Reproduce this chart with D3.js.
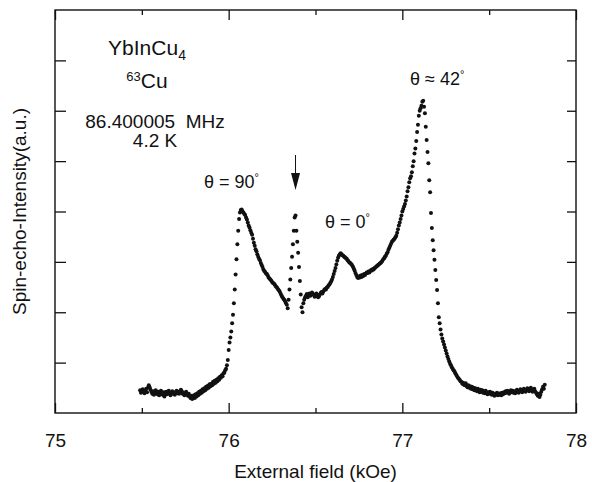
<!DOCTYPE html>
<html>
<head>
<meta charset="utf-8">
<script src="https://cdn.jsdelivr.net/npm/d3@7"></script>
<style>
  body { margin: 0; background: #fff; }
  text { font-family: "Liberation Sans", Arial, Helvetica, sans-serif; fill: #111; }
</style>
</head>
<body>
<div id="chart"></div>
<script>
// field (kOe) , spin-echo intensity (a.u.)
const spectrum = [
  // low-field baseline
  [75.490,0.45],[75.495,0.40],[75.500,0.43],[75.505,0.47],[75.510,0.42],[75.515,0.39],[75.520,0.44],[75.525,0.48],
  [75.530,0.41],[75.535,0.50],[75.540,0.55],[75.545,0.51],[75.550,0.46],[75.555,0.42],[75.560,0.38],[75.565,0.43],
  [75.570,0.36],[75.575,0.40],[75.580,0.45],[75.585,0.41],[75.590,0.37],[75.595,0.42],[75.600,0.35],[75.605,0.39],
  [75.610,0.44],[75.615,0.40],[75.620,0.36],[75.625,0.41],[75.630,0.33],[75.635,0.38],[75.640,0.42],[75.645,0.37],
  [75.650,0.40],[75.655,0.44],[75.660,0.39],[75.665,0.35],[75.670,0.40],[75.675,0.43],[75.680,0.38],[75.685,0.41],
  [75.690,0.36],[75.695,0.40],[75.700,0.44],[75.705,0.39],[75.710,0.42],[75.715,0.38],[75.720,0.41],[75.725,0.46],
  [75.730,0.43],[75.735,0.38],[75.740,0.40],[75.745,0.35],[75.750,0.38],[75.755,0.42],[75.760,0.37],[75.765,0.34],
  [75.770,0.38],[75.775,0.33],[75.780,0.30],[75.785,0.34],[75.790,0.28],[75.795,0.31],[75.800,0.35],[75.805,0.30],
  [75.810,0.37],[75.815,0.33],[75.820,0.39],[75.825,0.35],[75.830,0.42],[75.835,0.38],[75.840,0.44],[75.845,0.40],
  [75.850,0.47],[75.855,0.43],[75.860,0.49],[75.865,0.45],[75.870,0.52],[75.875,0.48],[75.880,0.54],[75.885,0.50],
  [75.890,0.57],[75.895,0.53],[75.900,0.58],[75.905,0.55],[75.910,0.62],[75.915,0.58],[75.920,0.64],[75.925,0.60],
  [75.930,0.66],[75.935,0.63],[75.940,0.69],[75.945,0.66],[75.950,0.72],[75.955,0.70],[75.960,0.75],[75.965,0.73],
  [75.970,0.79],[75.975,0.80],[75.980,0.85],[75.985,0.88],[75.990,0.95],
  // theta = 90 edge and peak
  [75.995,1.05],[76.000,1.25],[76.005,1.40],[76.010,1.50],[76.015,1.62],[76.020,1.78],[76.025,1.95],
  [76.030,2.18],[76.035,2.45],[76.040,2.75],[76.045,3.05],[76.050,3.35],[76.055,3.62],[76.060,3.85],
  [76.065,3.98],[76.070,4.03],[76.075,4.04],[76.080,4.00],
  [76.085,3.98],[76.090,3.95],[76.095,3.93],[76.100,3.88],[76.105,3.84],[76.110,3.78],[76.115,3.72],[76.120,3.68],
  [76.125,3.63],[76.130,3.58],[76.135,3.54],[76.140,3.46],[76.145,3.38],[76.150,3.32],[76.155,3.25],[76.160,3.21],
  [76.165,3.15],[76.170,3.10],[76.175,3.06],[76.180,3.03],[76.185,2.98],[76.190,2.94],[76.195,2.90],[76.200,2.85],
  [76.205,2.82],[76.210,2.80],[76.215,2.77],[76.220,2.76],[76.225,2.73],[76.230,2.69],[76.235,2.67],[76.240,2.65],
  [76.245,2.63],[76.250,2.60],[76.255,2.58],[76.260,2.57],[76.265,2.55],[76.270,2.52],[76.275,2.50],[76.280,2.48],
  [76.285,2.45],[76.290,2.43],[76.295,2.40],[76.300,2.36],[76.305,2.33],[76.310,2.30],[76.315,2.27],[76.320,2.25],
  [76.325,2.22],[76.330,2.18],[76.335,2.15],[76.340,2.08],
  // narrow line (arrow)
  [76.345,2.25],[76.350,2.45],[76.355,2.65],[76.360,2.88],[76.365,3.10],[76.370,3.35],[76.375,3.62],
  [76.380,3.88],[76.385,3.92],[76.390,3.62],[76.395,3.40],[76.400,3.18],[76.405,2.90],[76.410,2.62],
  [76.415,2.35],[76.420,2.10],[76.425,2.00],
  // theta = 0 shoulder
  [76.430,2.18],[76.435,2.25],[76.440,2.30],[76.445,2.33],[76.450,2.36],[76.455,2.30],[76.460,2.34],[76.465,2.37],
  [76.470,2.33],[76.475,2.35],[76.480,2.39],[76.485,2.36],[76.490,2.34],[76.495,2.31],[76.500,2.35],[76.505,2.37],
  [76.510,2.33],[76.515,2.30],[76.520,2.32],[76.525,2.35],[76.530,2.38],[76.535,2.40],[76.540,2.37],[76.545,2.41],
  [76.550,2.44],[76.555,2.46],[76.560,2.45],[76.565,2.49],[76.570,2.50],[76.575,2.53],[76.580,2.55],[76.585,2.58],
  [76.590,2.61],[76.595,2.65],[76.600,2.70],[76.605,2.76],[76.610,2.82],[76.615,2.88],[76.620,2.95],[76.625,3.02],
  [76.630,3.08],[76.635,3.12],[76.640,3.15],[76.645,3.17],[76.650,3.15],[76.655,3.13],[76.660,3.12],[76.665,3.10],
  [76.670,3.09],[76.675,3.07],[76.680,3.06],[76.685,3.03],[76.690,3.01],[76.695,2.99],[76.700,2.98],[76.705,2.96],
  [76.710,2.94],[76.715,2.91],[76.720,2.87],[76.725,2.83],[76.730,2.78],[76.735,2.74],[76.740,2.70],[76.745,2.68],
  [76.750,2.71],[76.755,2.69],[76.760,2.73],[76.765,2.70],[76.770,2.74],[76.775,2.72],[76.780,2.76],[76.785,2.74],
  [76.790,2.77],[76.795,2.79],[76.800,2.78],[76.805,2.81],[76.810,2.79],[76.815,2.82],[76.820,2.84],[76.825,2.83],
  [76.830,2.86],[76.835,2.85],[76.840,2.88],[76.845,2.89],[76.850,2.91],[76.855,2.92],[76.860,2.94],[76.865,2.95],
  [76.870,2.97],[76.875,2.98],[76.880,3.00],[76.885,3.02],[76.890,3.05],[76.895,3.07],[76.900,3.10],[76.905,3.12],
  [76.910,3.16],[76.915,3.19],[76.920,3.24],[76.925,3.28],[76.930,3.32],[76.935,3.36],[76.940,3.40],[76.945,3.42],
  [76.950,3.44],[76.955,3.46],[76.960,3.49],[76.965,3.52],[76.970,3.58],[76.975,3.65],[76.980,3.72],[76.985,3.78],
  // theta ~ 42 peak
  [76.990,3.85],[76.995,3.92],[77.000,4.00],[77.005,4.05],[77.010,4.10],[77.015,4.15],[77.020,4.22],
  [77.025,4.30],[77.030,4.40],[77.035,4.48],[77.040,4.58],[77.045,4.66],[77.050,4.70],[77.055,4.78],
  [77.060,4.90],[77.065,5.00],[77.070,5.15],[77.075,5.25],[77.080,5.40],[77.085,5.58],[77.090,5.72],
  [77.095,5.90],[77.100,6.00],[77.105,6.05],[77.110,6.10],[77.115,6.18],[77.120,6.20],[77.125,6.08],
  [77.130,5.95],[77.135,5.68],[77.140,5.42],[77.145,5.18],[77.150,4.96],[77.155,4.62],[77.160,4.38],
  [77.165,3.97],[77.170,3.67],[77.175,3.43],[77.180,3.23],[77.185,3.04],[77.190,2.84],[77.195,2.64],
  [77.200,2.44],[77.205,2.18],
  // high-field tail and baseline
  [77.210,1.90],[77.215,1.78],[77.220,1.66],[77.225,1.56],[77.230,1.48],[77.235,1.42],[77.240,1.36],[77.245,1.30],
  [77.250,1.24],[77.255,1.18],[77.260,1.12],[77.265,1.07],[77.270,1.02],[77.275,0.98],[77.280,0.95],[77.285,0.91],
  [77.290,0.88],[77.295,0.85],[77.300,0.83],[77.305,0.79],[77.310,0.76],[77.315,0.73],[77.320,0.70],[77.325,0.68],
  [77.330,0.66],[77.335,0.63],[77.340,0.62],[77.345,0.58],[77.350,0.60],[77.355,0.56],[77.360,0.55],[77.365,0.59],
  [77.370,0.54],[77.375,0.51],[77.380,0.55],[77.385,0.50],[77.390,0.53],[77.395,0.48],[77.400,0.52],[77.405,0.47],
  [77.410,0.50],[77.415,0.45],[77.420,0.49],[77.425,0.46],[77.430,0.43],[77.435,0.48],[77.440,0.44],[77.445,0.41],
  [77.450,0.46],[77.455,0.42],[77.460,0.45],[77.465,0.40],[77.470,0.43],[77.475,0.39],[77.480,0.44],[77.485,0.40],
  [77.490,0.37],[77.495,0.41],[77.500,0.38],[77.505,0.42],[77.510,0.39],[77.515,0.36],[77.520,0.40],[77.525,0.37],
  [77.530,0.34],[77.535,0.38],[77.540,0.36],[77.545,0.40],[77.550,0.35],[77.555,0.38],[77.560,0.36],[77.565,0.39],
  [77.570,0.35],[77.575,0.40],[77.580,0.37],[77.585,0.41],[77.590,0.39],[77.595,0.43],[77.600,0.40],[77.605,0.44],
  [77.610,0.41],[77.615,0.38],[77.620,0.42],[77.625,0.45],[77.630,0.41],[77.635,0.44],[77.640,0.40],[77.645,0.43],
  [77.650,0.39],[77.655,0.42],[77.660,0.46],[77.665,0.43],[77.670,0.40],[77.675,0.44],[77.680,0.47],[77.685,0.43],
  [77.690,0.41],[77.695,0.45],[77.700,0.48],[77.705,0.44],[77.710,0.42],[77.715,0.46],[77.720,0.49],[77.725,0.45],
  [77.730,0.43],[77.735,0.47],[77.740,0.50],[77.745,0.46],[77.750,0.42],[77.755,0.45],[77.760,0.48],[77.765,0.43],
  [77.770,0.40],[77.775,0.37],[77.780,0.34],[77.785,0.38],[77.790,0.32],[77.795,0.36],[77.800,0.42],[77.805,0.47],
  [77.810,0.52],[77.815,0.48],[77.820,0.56]
];

const majorTicks = [75, 76, 77, 78];
const minorTicks = [75.5, 76.5, 77.5];
const yTicks = [1, 2, 3, 4, 5, 6, 7];

const width = 592;
const height = 482;
const margin = { top: 10, right: 16, bottom: 69, left: 55 };

const svg = d3.select('#chart').append('svg')
    .attr('width', width)
    .attr('height', height);

const x = d3.scaleLinear().domain([75, 78]).range([margin.left, width - margin.right]);
const y = d3.scaleLinear().domain([0, 8]).range([height - margin.bottom, margin.top]);

const bottom = height - margin.bottom;
const right = width - margin.right;

// ticks point inward on all four sides
svg.append('g').attr('class', 'axis x')
    .attr('transform', 'translate(0,' + bottom + ')')
    .call(d3.axisBottom(x).tickValues(majorTicks).tickSize(-10).tickPadding(21).tickFormat(d3.format('d')));
svg.append('g').attr('class', 'axis x')
    .attr('transform', 'translate(0,' + bottom + ')')
    .call(d3.axisBottom(x).tickValues(minorTicks).tickSize(-5).tickFormat(''));
svg.append('g').attr('class', 'axis x')
    .attr('transform', 'translate(0,' + margin.top + ')')
    .call(d3.axisTop(x).tickValues(majorTicks).tickSize(-10).tickFormat(''));
svg.append('g').attr('class', 'axis x')
    .attr('transform', 'translate(0,' + margin.top + ')')
    .call(d3.axisTop(x).tickValues(minorTicks).tickSize(-5).tickFormat(''));
svg.append('g').attr('class', 'axis y')
    .attr('transform', 'translate(' + margin.left + ',0)')
    .call(d3.axisLeft(y).tickValues(yTicks).tickSize(-11).tickFormat(''));
svg.append('g').attr('class', 'axis y')
    .attr('transform', 'translate(' + right + ',0)')
    .call(d3.axisRight(y).tickValues(yTicks).tickSize(-9).tickFormat(''));

svg.selectAll('.axis .domain').remove();
svg.selectAll('.axis line').attr('stroke', '#111').attr('stroke-width', 1.3);
svg.selectAll('.axis text').attr('font-size', 19).attr('fill', '#111')
    .attr('font-family', '"Liberation Sans", Arial, sans-serif');

svg.append('rect')
    .attr('x', margin.left).attr('y', margin.top)
    .attr('width', right - margin.left).attr('height', bottom - margin.top)
    .attr('fill', 'none').attr('stroke', '#111').attr('stroke-width', 1.4);

// spectrum dots
svg.append('g').selectAll('circle')
    .data(spectrum)
    .enter().append('circle')
        .attr('cx', d => x(d[0]))
        .attr('cy', d => y(d[1]))
        .attr('r', 2)
        .attr('fill', '#111');

// axis titles
svg.append('text')
    .attr('x', (margin.left + right) / 2).attr('y', 478)
    .attr('text-anchor', 'middle').attr('font-size', 19)
    .text('External field (kOe)');
svg.append('text')
    .attr('transform', 'translate(26,' + y(4) + ') rotate(-90)')
    .attr('text-anchor', 'middle').attr('font-size', 19)
    .text('Spin-echo-Intensity(a.u.)');

// sample info
let t = svg.append('text').attr('x', 147).attr('y', 55).attr('text-anchor', 'middle').attr('font-size', 21);
t.append('tspan').text('YbInCu');
t.append('tspan').attr('font-size', 14).attr('dy', 5).text('4');

t = svg.append('text').attr('x', 147).attr('y', 88).attr('text-anchor', 'middle').attr('font-size', 21);
t.append('tspan').attr('font-size', 13).attr('dy', -7).text('63');
t.append('tspan').attr('dy', 7).text('Cu');

svg.append('text').attr('x', 155).attr('y', 128).attr('text-anchor', 'middle').attr('font-size', 19)
    .attr('xml:space', 'preserve').text('86.400005  MHz');
svg.append('text').attr('x', 155).attr('y', 147).attr('text-anchor', 'middle').attr('font-size', 19)
    .text('4.2 K');

// angle labels
function angleLabel(px, py, main) {
  const lab = svg.append('text').attr('x', px).attr('y', py).attr('font-size', 18);
  lab.append('tspan').text(main);
  lab.append('tspan').attr('font-size', 11).attr('dy', -7).text('°');
}
angleLabel(204, 188, 'θ = 90');
angleLabel(325, 228, 'θ = 0');
angleLabel(410, 85, 'θ ≈ 42');

// arrow marking the narrow line
const ax = x(76.385);
svg.append('line').attr('x1', ax).attr('x2', ax).attr('y1', 155).attr('y2', 178)
    .attr('stroke', '#111').attr('stroke-width', 1);
svg.append('path')
    .attr('d', 'M' + (ax - 4.5) + ',173 L' + (ax + 4.5) + ',173 L' + ax + ',190 Z')
    .attr('fill', '#111');
</script>
</body>
</html>
